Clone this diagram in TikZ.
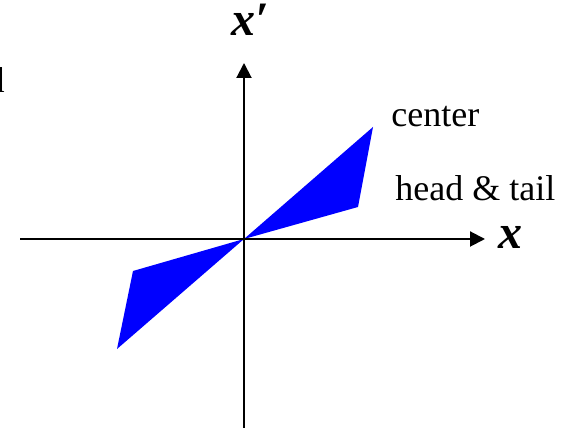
\documentclass[tikz,border=0pt]{standalone}
\usepackage{fontspec}
\setmainfont{Liberation Serif}
\usepackage{tikz}
\usetikzlibrary{arrows.meta}

\begin{document}
\begin{tikzpicture}[x=0.5pt, y=-0.5pt, >={Triangle[length=7.5pt,width=7.5pt]},
    lbl/.style={anchor=base west, inner sep=0pt, font=\fontsize{18}{20}\selectfont},
    axlbl/.style={anchor=base west, inner sep=0pt, font=\fontsize{24}{26}\selectfont\bfseries\itshape}]

    \useasboundingbox (0,0) rectangle (563,431);

    % ejes
    \coordinate (O) at (244,239);
    \coordinate (xl) at (20,239);
    \coordinate (xr) at (485,239);
    \coordinate (yb) at (244,428);
    \coordinate (yt) at (244,63);

    % regiones
    \fill[blue] (O) -- (373,127) -- (358,207) -- cycle;
    \fill[blue] (O) -- (133,271) -- (117,349) -- cycle;

    \draw[->, line width=1pt] (xl) -- (xr);
    \draw[->, line width=1pt] (yb) -- (yt);

    % etiquetas
    \node[axlbl] (xlab) at (498,249) {x};
    \node[axlbl] (xplab) at (231,36) {x′};
    \node[lbl] (cen) at (391,127) {center};
    \node[lbl] (ht) at (395,201) {head \& tail};
    \node[lbl, anchor=base east] (frag) at (5,93) {d};

\end{tikzpicture}
\end{document}
